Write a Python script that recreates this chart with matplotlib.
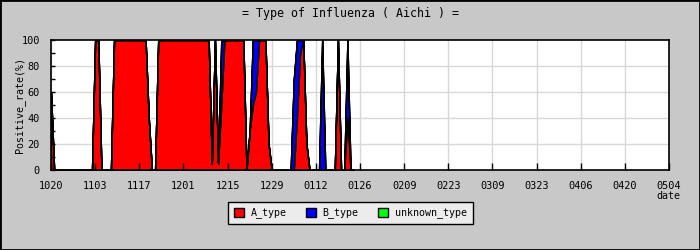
import matplotlib
matplotlib.use('Agg')
from matplotlib import pyplot as plt
from matplotlib.patches import Rectangle
import numpy as np

# tick labels, one every 14 days starting 10/20
date_labels = ['1020', '1103', '1117', '1201', '1215', '1229', '0112', '0126',
               '0209', '0223', '0309', '0323', '0406', '0420', '0504']

# daily positive rates (%) from 10/20
a_type = [60, 0, 0, 0, 0, 0, 0, 0, 0, 0,
          0, 0, 0, 0, 100, 100, 0, 0, 0, 0,
          100, 100, 100, 100, 100, 100, 100, 100, 100, 100,
          100, 40, 0, 0, 100, 100, 100, 100, 100, 100,
          100, 100, 100, 100, 100, 100, 100, 100, 100, 100,
          100, 5, 100, 5, 50, 100, 100, 100, 100, 100,
          100, 100, 0, 30, 50, 60, 100, 100, 100, 20,
          0, 0, 0, 0, 0, 0, 0, 0, 40, 90,
          100, 20, 0, 0, 0, 0, 0, 0, 0, 0,
          0, 100, 0, 0, 40, 0, 0]
b_type = [0, 0, 0, 0, 0, 0, 0, 0, 0, 0,
          0, 0, 0, 0, 0, 0, 0, 0, 0, 0,
          0, 0, 0, 0, 0, 0, 0, 0, 0, 0,
          0, 0, 0, 0, 0, 0, 0, 0, 0, 0,
          0, 0, 0, 0, 0, 0, 0, 0, 0, 0,
          0, 0, 0, 0, 50, 0, 0, 0, 0, 0,
          0, 0, 0, 0, 50, 40, 0, 0, 0, 0,
          0, 0, 0, 0, 0, 0, 0, 70, 60, 10,
          0, 0, 0, 0, 0, 0, 100, 0, 0, 0,
          0, 0, 0, 0, 60, 0, 0]
unknown_type = [0, 0, 0, 0, 0, 0, 0, 0, 0, 0,
                0, 0, 0, 0, 0, 0, 0, 0, 0, 0,
                0, 0, 0, 0, 0, 0, 0, 0, 0, 0,
                0, 0, 0, 0, 0, 0, 0, 0, 0, 0,
                0, 0, 0, 0, 0, 0, 0, 0, 0, 0,
                0, 0, 0, 0, 0, 0, 0, 0, 0, 0,
                0, 0, 0, 0, 0, 0, 0, 0, 0, 0,
                0, 0, 0, 0, 0, 0, 0, 0, 0, 0,
                0, 0, 0, 0, 0, 0, 0, 0, 0, 0,
                0, 0, 0, 0, 0, 0, 0]

days = np.arange(len(a_type))
tick_days = np.arange(len(date_labels)) * 14

plt.rcParams['font.family'] = ['DejaVu Sans Mono']

fig = plt.figure(figsize=(7, 2.5), dpi=100, facecolor='#c8c8c8')
ax = fig.add_axes([51 / 700, 80 / 250, 618 / 700, 130 / 250])
ax.set_facecolor('white')

# grid behind the areas
for t in tick_days:
    ax.axvline(t, color='#d8d8d8', lw=1, zorder=0)
for v in [20, 40, 60, 80]:
    ax.axhline(v, color='#d8d8d8', lw=1, zorder=0)

polys = ax.stackplot(days, a_type, b_type, unknown_type,
                     colors=['#ff0000', '#0000ff', '#00ff00'],
                     edgecolor='black', linewidth=1.0,
                     labels=['A_type', 'B_type', 'unknown_type'])

ax.set_xlim(tick_days[0], tick_days[-1])
ax.set_ylim(0, 100)
ax.set_xticks(tick_days)
ax.set_xticklabels(date_labels)
ax.set_yticks([0, 20, 40, 60, 80, 100])
ax.set_yticks([10, 30, 50, 70, 90], minor=True)
ax.tick_params(axis='x', direction='in', length=5, width=1, pad=8, labelsize=7.4)
ax.tick_params(axis='y', which='both', direction='in', length=3, width=1, pad=8, labelsize=7.4)
for s in ax.spines.values():
    s.set_color('black')
    s.set_linewidth(1.2)

fig.text(0.5, 1 - 13 / 250, '= Type of Influenza ( Aichi ) =', ha='center', va='center',
         fontsize=8.4)
fig.text(20 / 700, 1 - 105 / 250, 'Positive_rate(%)', rotation=90, ha='center', va='center',
         fontsize=7.2)
fig.text(668 / 700, 1 - 196 / 250, 'date', ha='center', va='center', fontsize=7.2)

leg = fig.legend(handles=polys, loc='center', bbox_to_anchor=(0.5, 1 - 213 / 250),
                 ncol=3, fontsize=7.2, frameon=True, fancybox=False,
                 handlelength=1, handleheight=1, handletextpad=0.7,
                 columnspacing=1.9, borderpad=0.6)
leg.get_frame().set_facecolor('#ececec')
leg.get_frame().set_edgecolor('black')
leg.get_frame().set_linewidth(1)
leg.get_frame().set_alpha(1)

fig.add_artist(Rectangle((0, 0), 1, 1, transform=fig.transFigure, fill=False,
                         edgecolor='black', linewidth=2))

plt.savefig('out.png', dpi=100, facecolor=fig.get_facecolor())
